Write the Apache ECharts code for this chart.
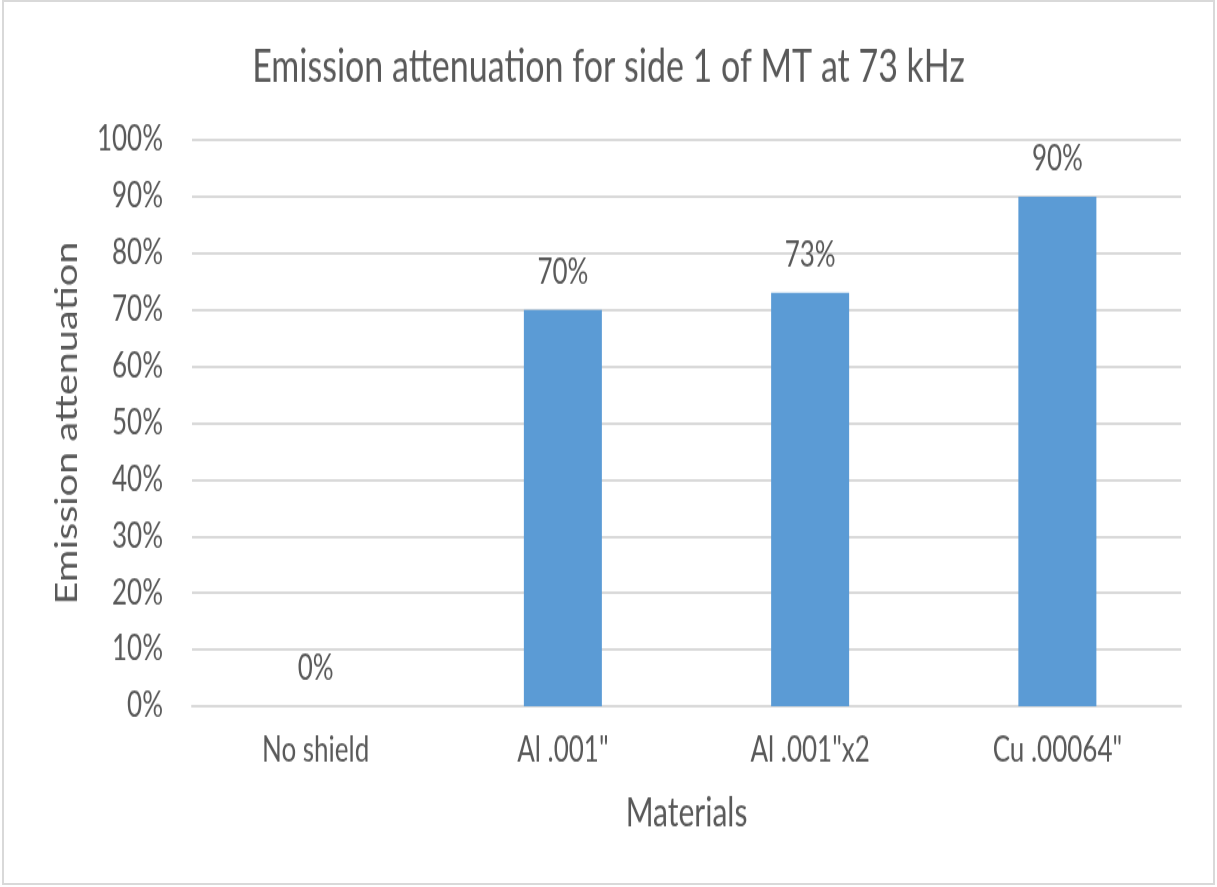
<!DOCTYPE html>
<html>
<head>
<meta charset="utf-8">
<title>Emission attenuation for side 1 of MT at 73 kHz</title>
<script src="https://cdn.jsdelivr.net/npm/echarts@6/dist/echarts.min.js"></script>
<style>
  html, body { margin: 0; padding: 0; background: #ffffff; overflow: hidden; }
  #frame {
    position: absolute; left: 2px; top: 0px; width: 1213px; height: 885px;
    box-sizing: border-box; border: 2px solid #d9d9d9; background: #ffffff;
  }
  /* chart is laid out on a shorter canvas and stretched vertically */
  #chart {
    position: absolute; left: 0; top: 0; width: 1217px; height: 672px;
    transform: scaleY(1.32); transform-origin: 0 0;
  }
</style>
</head>
<body>
<div id="frame"></div>
<div id="chart"></div>
<script>
const titleText = 'Emission attenuation for side 1 of MT at 73 kHz';
const categories = ['No shield', 'Al .001"', 'Al .001"x2', 'Cu .00064"'];
const attenuationPct = [0, 70, 73, 90];
const yTicks = { min: 0, max: 100, interval: 10 };
const xAxisName = 'Materials';
const yAxisName = 'Emission attenuation';

const FONT = 'Lato, "Open Sans", sans-serif';
const TEXT = '#595959';
const GRID = '#d9d9d9';

const chart = echarts.init(document.getElementById('chart'), null, { renderer: 'canvas' });
chart.setOption({
  animation: false,
  backgroundColor: 'transparent',
  title: {
    text: titleText,
    left: 'center',
    top: 29,
    textStyle: { fontFamily: FONT, fontSize: 34, fontWeight: 'normal', color: TEXT }
  },
  grid: { left: 192, right: 36, top: 106, bottom: 137, containLabel: false },
  xAxis: {
    type: 'category',
    data: categories,
    name: xAxisName,
    nameLocation: 'middle',
    nameGap: 66,
    nameTextStyle: { fontFamily: FONT, fontSize: 30, color: TEXT },
    axisLine: { show: true, lineStyle: { color: GRID, width: 2 } },
    axisTick: { show: false },
    axisLabel: { margin: 21, fontFamily: FONT, fontSize: 26, color: TEXT }
  },
  yAxis: {
    type: 'value',
    min: yTicks.min,
    max: yTicks.max,
    interval: yTicks.interval,
    name: yAxisName,
    nameLocation: 'middle',
    nameRotate: 90,
    nameGap: 110,
    nameTextStyle: { fontFamily: FONT, fontSize: 30, color: TEXT },
    axisLine: { show: false },
    axisTick: { show: false },
    axisLabel: { margin: 29, formatter: '{value}%', fontFamily: FONT, fontSize: 26, color: TEXT },
    splitLine: { show: true, lineStyle: { color: GRID, width: 2 } }
  },
  series: [{
    type: 'bar',
    data: attenuationPct,
    barWidth: 78,
    itemStyle: { color: '#5b9bd5' },
    label: {
      show: true,
      position: 'top',
      distance: 15,
      formatter: p => p.value + '%',
      fontFamily: FONT,
      fontSize: 26,
      color: TEXT
    }
  }]
});
</script>
</body>
</html>
